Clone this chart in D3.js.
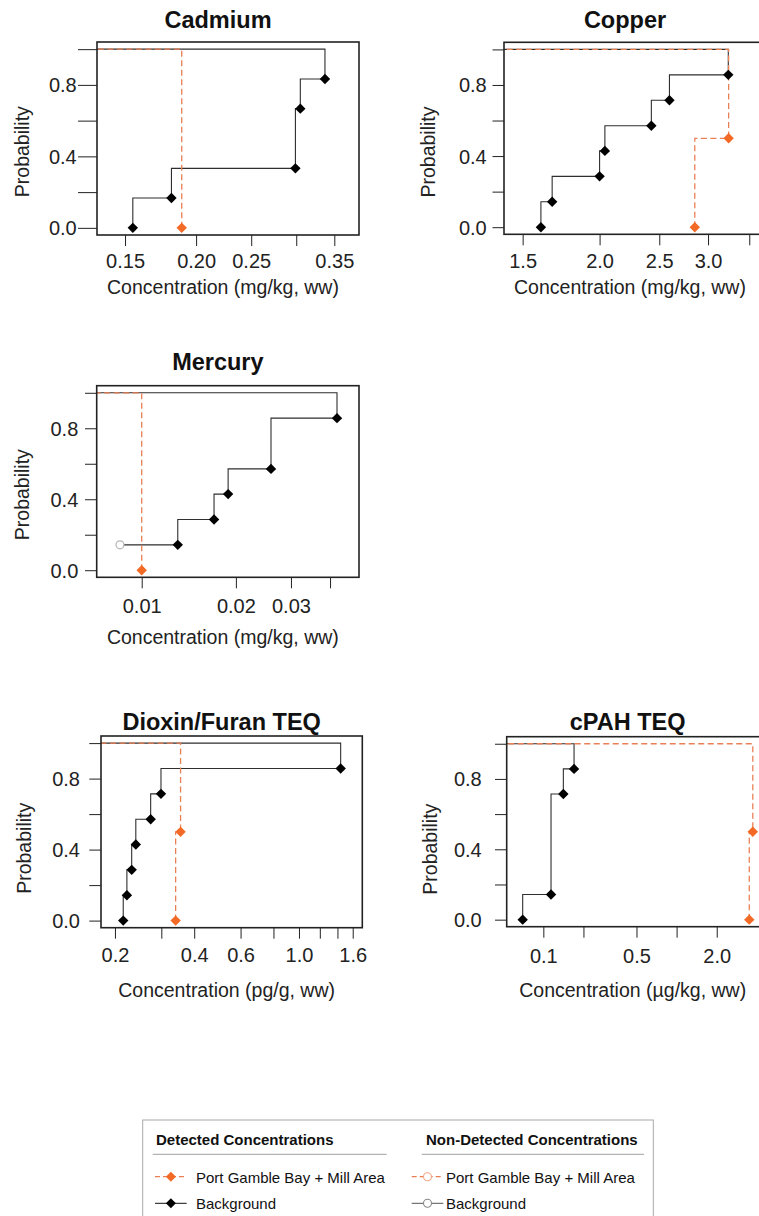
<!DOCTYPE html>
<html>
<head>
<meta charset="utf-8">
<script src="https://cdn.jsdelivr.net/npm/d3@7"></script>
<style>
  html, body { margin: 0; padding: 0; background: #fff; }
  svg { display: block; font-family: "Liberation Sans", Arial, Helvetica, sans-serif; }
</style>
</head>
<body>
<svg id="chart" width="759" height="1216"></svg>
<script>
// ---- Data: concentrations and cumulative probabilities per analyte ----
// "bg" = Background, "site" = Port Gamble Bay + Mill Area, "Nd" = non-detected

const cadmiumBgConc   = [0.1548, 0.181, 0.299, 0.305, 0.337];
const cadmiumBgProb   = [0, 0.167, 0.333, 0.667, 0.833];
const cadmiumSiteConc = [0.1887];
const cadmiumSiteProb = [0];
const cadmiumTicks      = [0.15, 0.20, 0.25, 0.30, 0.35];
const cadmiumTickLabels = ["0.15", "0.20", "0.25", "", "0.35"];

const copperBgConc   = [1.606, 1.675, 2.0, 2.04, 2.427, 2.597, 3.236];
const copperBgProb   = [0, 0.143, 0.286, 0.429, 0.571, 0.714, 0.857];
const copperSiteConc = [2.855, 3.24];
const copperSiteProb = [0, 0.5];
const copperTicks      = [1.5, 2.0, 2.5, 3.0, 3.5];
const copperTickLabels = ["1.5", "2.0", "2.5", "3.0", ""];

const mercuryBgConc   = [0.01304, 0.01703, 0.01889, 0.0259, 0.0421];
const mercuryBgProb   = [0.143, 0.286, 0.429, 0.571, 0.857];
const mercuryBgNdConc = [0.00852];
const mercuryBgNdProb = [0.143];
const mercurySiteConc = [0.01];
const mercurySiteProb = [0];
const mercuryTicks      = [0.01, 0.02, 0.03, 0.04];
const mercuryTickLabels = ["0.01", "0.02", "0.03", ""];

const dioxinBgConc   = [0.215, 0.222, 0.2315, 0.240, 0.2733, 0.2991, 1.44];
const dioxinBgProb   = [0, 0.143, 0.286, 0.429, 0.571, 0.714, 0.857];
const dioxinSiteConc = [0.340, 0.355];
const dioxinSiteProb = [0, 0.5];
const dioxinTicks      = [0.2, 0.3, 0.4, 0.6, 0.8, 1.0, 1.2, 1.4, 1.6];
const dioxinTickLabels = ["0.2", "", "0.4", "0.6", "", "1.0", "", "", "1.6"];

const cpahBgConc   = [0.070, 0.1142, 0.1413, 0.170];
const cpahBgProb   = [0, 0.143, 0.714, 0.857];
const cpahSiteConc = [3.51, 3.73];
const cpahSiteProb = [0, 0.5];
const cpahTicks      = [0.1, 0.2, 0.5, 1.0, 2.0];
const cpahTickLabels = ["0.1", "", "0.5", "", "2.0"];

const yTicks      = [0, 0.2, 0.4, 0.6, 0.8, 1.0];
const yTickLabels = ["0.0", "", "0.4", "", "0.8", ""];

const titles = ["Cadmium", "Copper", "Mercury", "Dioxin/Furan TEQ", "cPAH TEQ"];
const xTitles = ["Concentration (mg/kg, ww)", "Concentration (mg/kg, ww)",
                 "Concentration (mg/kg, ww)", "Concentration (pg/g, ww)",
                 "Concentration (\u00b5g/kg, ww)"];

const legendHeadings = ["Detected Concentrations", "Non-Detected Concentrations"];
const legendLabels   = ["Port Gamble Bay + Mill Area", "Background"];

// ---- Styles ----
const SITE_MARK = "#F26A25";
const SITE_LINE = "#E97F55";
const BG_LINE = "#2e2e2e";
const FONT_TICK = 20;
const MARK_R = 5.2;

const zip = (xs, ys) => xs.map((x, i) => ({ x, y: ys[i] }));

// panel layout: plot box [x0, y0, x1, y1], x-scale domain, label offsets
const panels = [
  { title: titles[0], xTitle: xTitles[0], box: [97, 42, 359, 235], dom: [0.1339, 0.3868],
    tickLen: 19, yLabRight: 76.7, xLabBase: 267.5, xTitleBase: 293.5, yTitle: [21.7, 151.7], titleBase: 28,
    ticks: cadmiumTicks, tickLabels: cadmiumTickLabels,
    bg: zip(cadmiumBgConc, cadmiumBgProb), bgNd: [], site: zip(cadmiumSiteConc, cadmiumSiteProb) },
  { title: titles[1], xTitle: xTitles[1], box: [504, 42.3, 766, 234.3], dom: [1.399, 3.726],
    tickLen: 11.5, yLabRight: 486.7, xLabBase: 268, xTitleBase: 294, yTitle: [428, 152], titleBase: 28,
    ticks: copperTicks, tickLabels: copperTickLabels,
    bg: zip(copperBgConc, copperBgProb), bgNd: [], site: zip(copperSiteConc, copperSiteProb) },
  { title: titles[2], xTitle: xTitles[2], box: [96.7, 385.7, 359, 577.3], dom: [0.00718, 0.0495],
    tickLen: 11.7, yLabRight: 78.3, xLabBase: 613.5, xTitleBase: 644, yTitle: [21.7, 494.7], titleBase: 370,
    ticks: mercuryTicks, tickLabels: mercuryTickLabels,
    bg: zip(mercuryBgConc, mercuryBgProb), bgNd: zip(mercuryBgNdConc, mercuryBgNdProb),
    site: zip(mercurySiteConc, mercurySiteProb) },
  { title: titles[3], xTitle: xTitles[3], box: [101, 736, 362.3, 927.7], dom: [0.177, 1.74],
    tickLen: 11.7, yLabRight: 80, xLabBase: 962, xTitleBase: 997, yTitle: [24.2, 848.3], titleBase: 729.5,
    ticks: dioxinTicks, tickLabels: dioxinTickLabels,
    bg: zip(dioxinBgConc, dioxinBgProb), bgNd: [], site: zip(dioxinSiteConc, dioxinSiteProb) },
  { title: titles[4], xTitle: xTitles[4], box: [506.7, 736.7, 768.7, 926.7], dom: [0.0531, 4.91],
    tickLen: 11.7, yLabRight: 481.7, xLabBase: 963.5, xTitleBase: 997, yTitle: [430.5, 849.2], titleBase: 730,
    ticks: cpahTicks, tickLabels: cpahTickLabels,
    bg: zip(cpahBgConc, cpahBgProb), bgNd: [], site: zip(cpahSiteConc, cpahSiteProb) }
];

const svg = d3.select("#chart");

// filled diamond (square turned 45 degrees)
const diamond = r => `M0,${-r}L${r},0L0,${r}L${-r},0Z`;

panels.forEach((p, idx) => {
  const [x0, y0, x1, y1] = p.box;
  const x = d3.scaleLog().domain(p.dom).range([x0, x1]);
  const y = d3.scaleLinear().domain([-0.04, 1.04]).range([y1, y0]);
  const g = svg.append("g");

  const clipId = "clip" + idx;
  g.append("clipPath").attr("id", clipId)
    .append("rect").attr("x", x0).attr("y", y0).attr("width", x1 - x0).attr("height", y1 - y0);

  // y axis
  const yAxis = d3.axisLeft(y).tickValues(yTicks).tickSize(p.tickLen)
    .tickFormat((d, i) => yTickLabels[i]);
  const ya = g.append("g").attr("transform", `translate(${x0},0)`).call(yAxis);
  ya.select(".domain").remove();
  ya.selectAll(".tick line").attr("stroke", "#222").attr("stroke-width", 1);
  ya.selectAll(".tick text").attr("x", -(x0 - p.yLabRight)).attr("dy", "0.35em")
    .attr("font-size", FONT_TICK).attr("fill", "#222").attr("font-family", "Liberation Sans, Arial, sans-serif");

  // x axis
  const xAxis = d3.axisBottom(x).tickValues(p.ticks).tickSize(11)
    .tickFormat((d, i) => p.tickLabels[i]);
  const xa = g.append("g").attr("transform", `translate(0,${y1})`).call(xAxis);
  xa.select(".domain").remove();
  xa.selectAll(".tick line").attr("stroke", "#222").attr("stroke-width", 1);
  xa.selectAll(".tick text").attr("y", p.xLabBase - y1).attr("dy", 0)
    .attr("font-size", FONT_TICK).attr("fill", "#222").attr("font-family", "Liberation Sans, Arial, sans-serif");

  // step lines: cumulative steps ending at probability 1 and returning to the left edge
  const stepLine = d3.line().x(d => x(d.x)).y(d => y(d.y)).curve(d3.curveStepBefore);
  const lines = g.append("g").attr("clip-path", `url(#${clipId})`);

  const bgPts = p.bg.concat(p.bgNd).sort((a, b) => a.x - b.x);
  bgPts.push({ x: p.dom[0], y: 1 });
  lines.append("path").attr("d", stepLine(bgPts))
    .attr("fill", "none").attr("stroke", BG_LINE).attr("stroke-width", 1.1);

  const sitePts = p.site.slice().sort((a, b) => a.x - b.x);
  sitePts.push({ x: p.dom[0], y: 1 });
  lines.append("path").attr("d", stepLine(sitePts))
    .attr("fill", "none").attr("stroke", SITE_LINE).attr("stroke-width", 1.3)
    .attr("stroke-dasharray", "6,3.5");

  // markers
  const marks = g.append("g");
  marks.selectAll(".bgnd").data(p.bgNd).join("circle")
    .attr("cx", d => x(d.x)).attr("cy", d => y(d.y)).attr("r", 4)
    .attr("fill", "#fff").attr("stroke", "#b5b5b5").attr("stroke-width", 1.2);
  marks.selectAll(".bg").data(p.bg).join("path")
    .attr("d", diamond(MARK_R)).attr("transform", d => `translate(${x(d.x)},${y(d.y)})`)
    .attr("fill", "#000");
  marks.selectAll(".site").data(p.site).join("path")
    .attr("d", diamond(MARK_R)).attr("transform", d => `translate(${x(d.x)},${y(d.y)})`)
    .attr("fill", SITE_MARK);

  // frame
  g.append("rect").attr("x", x0).attr("y", y0).attr("width", x1 - x0).attr("height", y1 - y0)
    .attr("fill", "none").attr("stroke", "#222").attr("stroke-width", 1.6);

  // titles
  g.append("text").attr("x", (x0 + x1) / 2 - 10).attr("y", p.titleBase)
    .attr("text-anchor", "middle").attr("font-weight", "bold").attr("font-size", 23.5)
    .attr("fill", "#111").text(p.title);
  g.append("text").attr("x", (x0 + x1) / 2 - 5).attr("y", p.xTitleBase)
    .attr("text-anchor", "middle").attr("font-size", 19.5).attr("fill", "#222").text(p.xTitle);
  g.append("text").attr("transform", `translate(${p.yTitle[0]},${p.yTitle[1]}) rotate(-90)`)
    .attr("text-anchor", "middle").attr("dy", "0.35em").attr("font-size", 19.5)
    .attr("fill", "#222").text("Probability");
});

// ---- Legend ----
const lg = svg.append("g");
lg.append("rect").attr("x", 142.7).attr("y", 1120).attr("width", 510.6).attr("height", 120)
  .attr("fill", "#fff").attr("stroke", "#a8a8a8").attr("stroke-width", 1);

const cols = [
  { headX: 156, ruleX: [152.7, 386.7], symX: [155, 186.7], textX: 196 },
  { headX: 426, ruleX: [421.7, 644], symX: [411.7, 443.3], textX: 446 }
];
const rowY = [1176.7, 1203.3];

cols.forEach((c, ci) => {
  lg.append("text").attr("x", c.headX).attr("y", 1145).attr("font-weight", "bold")
    .attr("font-size", 15).attr("fill", "#111").text(legendHeadings[ci]);
  lg.append("line").attr("x1", c.ruleX[0]).attr("x2", c.ruleX[1]).attr("y1", 1154.3).attr("y2", 1154.3)
    .attr("stroke", "#a0a0a0").attr("stroke-width", 1);
  legendLabels.forEach((lab, ri) => {
    const yy = rowY[ri];
    const isSite = ri === 0;
    const cx = (c.symX[0] + c.symX[1]) / 2;
    lg.append("line").attr("x1", c.symX[0]).attr("x2", c.symX[1]).attr("y1", yy).attr("y2", yy)
      .attr("stroke", isSite ? SITE_LINE : (ci === 0 ? "#111" : "#555"))
      .attr("stroke-width", isSite ? 1.3 : 1)
      .attr("stroke-dasharray", isSite ? "5,3" : null);
    if (ci === 0) {
      lg.append("path").attr("d", diamond(5)).attr("transform", `translate(${cx},${yy})`)
        .attr("fill", isSite ? SITE_MARK : "#000");
    } else {
      lg.append("circle").attr("cx", cx).attr("cy", yy).attr("r", 4)
        .attr("fill", "#fff").attr("stroke", isSite ? "#F3A583" : "#888").attr("stroke-width", 1.1);
    }
    lg.append("text").attr("x", c.textX).attr("y", yy + 6).attr("font-size", 15)
      .attr("fill", "#111").text(lab);
  });
});
</script>
</body>
</html>
